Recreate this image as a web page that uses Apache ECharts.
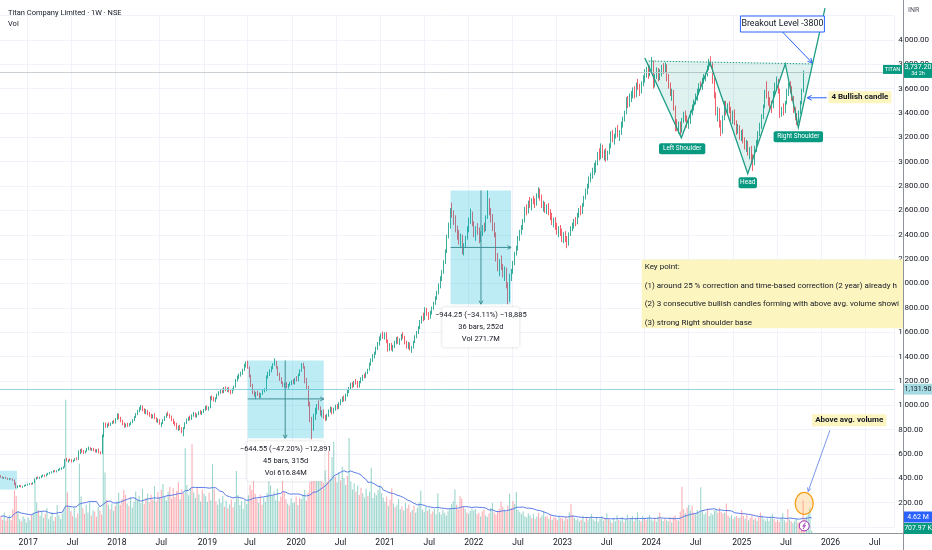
<!DOCTYPE html>
<html><head><meta charset="utf-8">
<script src="https://cdn.jsdelivr.net/npm/echarts@6/dist/echarts.min.js"></script>
<style>html,body{margin:0;padding:0;background:#fff}#c{width:932px;height:550px}</style>
</head><body><div id="c"></div>
<script>
// ---------- DATA ----------
const startMonday = '2016-09-12';
const futureWeeks = 53;
const xTickLabels = ['2017','Jul','2018','Jul','2019','Jul','2020','Jul','2021','Jul','2022','Jul','2023','Jul','2024','Jul','2025','Jul','2026','Jul'];
// weekly candles [open, high, low, close]
const ohlc2016 = [[418,425,405,410],[410,415,398,402],[402,410,395,406],[406,412,396,399],[399,404,388,392],[392,400,385,396],[396,402,390,394],[394,398,380,385],[385,390,345,360],[360,365,318,330],[330,342,318,335],[335,345,328,340],[340,344,326,330],[330,338,322,334],[334,346,330,342],[342,350,336,346]];
const ohlc2017 = [[346,356,340,352],[352,360,346,355],[355,362,348,350],[350,368,348,365],[365,400,360,395],[395,412,388,405],[405,415,396,400],[400,412,395,408],[408,425,402,420],[420,432,412,425],[425,430,412,418],[418,438,415,432],[432,445,426,440],[440,452,432,446],[446,458,440,452],[452,466,446,460],[460,468,450,455],[455,466,448,462],[462,478,458,472],[472,484,465,478],[478,490,470,485],[485,498,478,492],[492,560,488,548],[548,568,538,545],[545,555,528,550],[550,562,540,546],[546,556,530,538],[538,552,532,548],[548,565,542,560],[560,572,548,555],[555,630,552,612],[612,640,598,628],[628,645,610,618],[618,632,600,610],[610,628,604,624],[624,650,618,642],[642,660,630,648],[648,655,628,634],[634,648,625,642],[642,650,622,628],[628,640,612,618],[618,640,610,632],[632,645,605,612],[612,622,596,604],[604,760,600,745],[745,860,738,842],[842,858,815,828],[828,850,815,845],[845,860,826,838],[838,858,830,852],[852,872,845,866],[866,880,850,858]];
const ohlc2018 = [[858,895,850,888],[888,935,880,920],[920,930,885,895],[895,905,860,870],[870,880,835,845],[845,858,815,830],[830,850,818,842],[842,856,822,835],[835,852,826,848],[848,866,838,860],[860,885,852,878],[878,910,870,905],[905,935,895,928],[928,962,918,955],[955,985,942,975],[975,1003,960,990],[990,998,950,962],[962,975,930,945],[945,968,925,955],[955,962,918,928],[928,945,905,915],[915,930,890,900],[900,925,892,918],[918,935,885,892],[892,900,860,872],[872,890,855,880],[880,885,840,848],[848,860,820,852],[852,885,845,878],[878,910,870,902],[902,935,895,925],[925,948,910,918],[918,930,892,900],[900,915,870,878],[878,890,845,852],[852,868,830,840],[840,855,800,812],[812,832,790,825],[825,840,795,805],[805,820,770,785],[785,820,745,812],[812,860,805,852],[852,890,845,880],[880,905,870,898],[898,915,875,885],[885,925,880,918],[918,945,905,930],[930,940,900,910],[910,932,898,925],[925,950,918,942],[942,960,925,935],[935,955,920,948]];
const ohlc2019 = [[948,970,935,962],[962,995,955,985],[985,1000,960,975],[975,990,955,982],[982,1075,975,1062],[1062,1080,1040,1050],[1050,1070,1030,1045],[1045,1065,1025,1058],[1058,1095,1050,1088],[1088,1115,1078,1105],[1105,1130,1095,1120],[1120,1138,1098,1108],[1108,1150,1100,1140],[1140,1155,1115,1128],[1128,1145,1110,1135],[1135,1150,1105,1115],[1115,1125,1090,1100],[1100,1140,1095,1132],[1132,1160,1120,1150],[1150,1215,1145,1205],[1205,1245,1195,1232],[1232,1260,1215,1250],[1250,1275,1235,1262],[1262,1300,1250,1290],[1290,1340,1280,1325],[1325,1360,1310,1330],[1330,1366,1300,1310],[1310,1318,1230,1242],[1242,1250,1150,1165],[1165,1175,1090,1105],[1105,1120,1070,1085],[1085,1110,1050,1098],[1098,1120,1075,1090],[1090,1105,1055,1068],[1068,1100,1060,1092],[1092,1130,1085,1120],[1120,1140,1105,1125],[1125,1245,1115,1232],[1232,1275,1220,1262],[1262,1295,1240,1285],[1285,1320,1270,1305],[1305,1345,1295,1338],[1338,1385,1325,1352],[1352,1365,1300,1312],[1312,1320,1240,1255],[1255,1268,1200,1215],[1215,1230,1175,1182],[1182,1195,1150,1165],[1165,1185,1145,1172],[1172,1190,1140,1150],[1150,1175,1135,1168],[1168,1192,1155,1180]];
const ohlc2020 = [[1180,1205,1165,1190],[1190,1215,1172,1178],[1178,1225,1170,1218],[1218,1240,1195,1205],[1205,1260,1198,1252],[1252,1295,1240,1285],[1285,1345,1275,1335],[1335,1350,1300,1312],[1312,1320,1180,1195],[1195,1225,1130,1150],[1150,1160,990,1010],[1010,1030,860,880],[880,905,721,800],[800,930,790,915],[915,980,880,945],[945,1010,925,995],[995,1040,960,975],[975,990,915,930],[930,960,900,945],[945,965,890,905],[905,920,870,885],[885,930,875,920],[920,965,905,955],[955,990,940,972],[972,985,925,940],[940,980,930,968],[968,1005,955,992],[992,1010,965,978],[978,1025,970,1015],[1015,1050,1000,1040],[1040,1070,1025,1055],[1055,1080,1030,1042],[1042,1095,1035,1085],[1085,1125,1070,1110],[1110,1150,1100,1140],[1140,1185,1130,1172],[1172,1190,1140,1155],[1155,1200,1150,1192],[1192,1215,1170,1180],[1180,1200,1140,1150],[1150,1200,1145,1195],[1195,1230,1180,1220],[1220,1250,1200,1238],[1238,1260,1220,1232],[1232,1275,1225,1268],[1268,1300,1255,1292],[1292,1350,1285,1340],[1340,1385,1325,1372],[1372,1420,1355,1410],[1410,1440,1385,1428],[1428,1480,1415,1470],[1470,1520,1455,1508],[1508,1565,1490,1552]];
const ohlc2021 = [[1552,1590,1530,1575],[1575,1605,1545,1560],[1560,1598,1540,1585],[1585,1600,1510,1522],[1522,1540,1440,1460],[1460,1510,1445,1495],[1495,1512,1450,1465],[1465,1495,1440,1482],[1482,1530,1470,1520],[1520,1560,1500,1545],[1545,1565,1505,1515],[1515,1550,1495,1540],[1540,1585,1530,1575],[1575,1600,1545,1555],[1555,1570,1500,1510],[1510,1530,1465,1478],[1478,1520,1460,1505],[1505,1515,1450,1462],[1462,1485,1430,1475],[1475,1530,1465,1522],[1522,1575,1510,1565],[1565,1610,1550,1598],[1598,1650,1585,1640],[1640,1700,1625,1688],[1688,1735,1670,1720],[1720,1760,1690,1705],[1705,1805,1700,1790],[1790,1800,1735,1748],[1748,1765,1700,1718],[1718,1775,1710,1762],[1762,1810,1745,1800],[1800,1850,1785,1838],[1838,1895,1825,1880],[1880,1940,1865,1925],[1925,2000,1910,1985],[1985,2060,1960,2040],[2040,2110,2020,2095],[2095,2190,2080,2175],[2175,2280,2160,2262],[2262,2400,2250,2385],[2385,2500,2370,2480],[2480,2620,2450,2595],[2595,2665,2540,2555],[2555,2600,2480,2510],[2510,2560,2420,2440],[2440,2475,2360,2395],[2395,2440,2320,2345],[2345,2410,2300,2385],[2385,2400,2240,2270],[2270,2330,2230,2310],[2310,2390,2290,2375],[2375,2470,2360,2455]];
const ohlc2022 = [[2455,2540,2420,2525],[2525,2615,2490,2560],[2560,2590,2470,2490],[2490,2510,2380,2410],[2410,2470,2350,2450],[2450,2495,2400,2420],[2420,2460,2330,2365],[2365,2430,2340,2415],[2415,2480,2390,2465],[2465,2500,2420,2440],[2440,2560,2430,2545],[2545,2764,2530,2680],[2680,2700,2560,2585],[2585,2620,2500,2530],[2530,2570,2430,2470],[2470,2500,2380,2405],[2405,2420,2180,2210],[2210,2250,2100,2145],[2145,2200,2060,2180],[2180,2230,2110,2135],[2135,2160,2050,2090],[2090,2140,2020,2115],[2115,2130,1960,1990],[1990,2010,1830,1880],[1880,2080,1850,2060],[2060,2120,2020,2095],[2095,2185,2080,2170],[2170,2260,2150,2245],[2245,2310,2230,2290],[2290,2390,2270,2375],[2375,2440,2350,2420],[2420,2480,2400,2460],[2460,2530,2440,2515],[2515,2630,2500,2610],[2610,2650,2560,2590],[2590,2680,2575,2665],[2665,2710,2620,2640],[2640,2700,2600,2685],[2685,2720,2650,2670],[2670,2700,2620,2650],[2650,2740,2640,2720],[2720,2790,2700,2765],[2765,2780,2680,2700],[2700,2730,2620,2640],[2640,2680,2590,2655],[2655,2670,2580,2600],[2600,2650,2570,2630],[2630,2660,2560,2575],[2575,2610,2520,2545],[2545,2580,2480,2500],[2500,2540,2460,2520],[2520,2545,2440,2465]];
const ohlc2023 = [[2465,2500,2400,2430],[2430,2470,2380,2455],[2455,2480,2390,2410],[2410,2450,2340,2375],[2375,2420,2330,2400],[2400,2430,2340,2360],[2360,2390,2290,2330],[2330,2420,2310,2405],[2405,2470,2390,2455],[2455,2500,2430,2480],[2480,2530,2450,2515],[2515,2545,2470,2495],[2495,2580,2485,2565],[2565,2620,2540,2600],[2600,2640,2560,2585],[2585,2660,2570,2645],[2645,2720,2630,2700],[2700,2780,2690,2765],[2765,2820,2730,2800],[2800,2880,2780,2860],[2860,2910,2830,2880],[2880,2950,2860,2935],[2935,2990,2890,2960],[2960,3010,2910,2990],[2990,3080,2970,3060],[3060,3110,3010,3040],[3040,3150,3020,3120],[3120,3140,3030,3060],[3060,3100,3010,3080],[3080,3110,3000,3035],[3035,3090,3010,3075],[3075,3150,3060,3130],[3130,3250,3110,3220],[3220,3260,3160,3180],[3180,3230,3140,3210],[3210,3280,3190,3260],[3260,3300,3200,3225],[3225,3260,3170,3240],[3240,3330,3220,3310],[3310,3370,3280,3350],[3350,3420,3330,3400],[3400,3530,3390,3500],[3500,3540,3440,3470],[3470,3560,3450,3530],[3530,3580,3490,3555],[3555,3610,3520,3590],[3590,3620,3520,3545],[3545,3650,3530,3630],[3630,3680,3590,3610],[3610,3640,3540,3570],[3570,3660,3560,3645],[3645,3710,3620,3690]];
const ohlc2024 = [[3690,3760,3650,3720],[3720,3780,3690,3750],[3750,3800,3680,3710],[3710,3790,3700,3770],[3770,3860,3740,3810],[3810,3830,3600,3640],[3640,3720,3610,3700],[3700,3775,3680,3740],[3740,3770,3660,3685],[3685,3760,3670,3745],[3745,3795,3700,3780],[3780,3810,3720,3750],[3750,3815,3730,3795],[3795,3800,3660,3690],[3690,3720,3600,3620],[3620,3650,3540,3560],[3560,3600,3500,3580],[3580,3590,3420,3440],[3440,3460,3250,3300],[3300,3350,3250,3280],[3280,3330,3230,3310],[3310,3330,3210,3245],[3245,3360,3240,3345],[3345,3410,3320,3395],[3395,3420,3330,3350],[3350,3380,3280,3300],[3300,3340,3270,3325],[3325,3420,3310,3405],[3405,3470,3380,3450],[3450,3510,3420,3490],[3490,3560,3470,3540],[3540,3600,3500,3580],[3580,3645,3550,3625],[3625,3660,3590,3605],[3605,3690,3590,3670],[3670,3720,3640,3700],[3700,3730,3660,3715],[3715,3790,3700,3770],[3770,3845,3750,3825],[3825,3866,3780,3800],[3800,3810,3640,3665],[3665,3690,3520,3545],[3545,3570,3380,3410],[3410,3450,3330,3430],[3430,3440,3280,3300],[3300,3340,3210,3250],[3250,3380,3230,3360],[3360,3500,3340,3470],[3470,3500,3380,3400],[3400,3480,3390,3460],[3460,3495,3400,3420],[3420,3450,3330,3360]];
const ohlc2025 = [[3360,3420,3310,3390],[3390,3430,3300,3320],[3320,3340,3220,3250],[3250,3310,3230,3290],[3290,3300,3180,3210],[3210,3260,3170,3240],[3240,3270,3150,3170],[3170,3200,3100,3130],[3130,3180,3080,3160],[3160,3170,3050,3080],[3080,3120,3020,3100],[3100,3130,2990,3030],[3030,3060,2925,2980],[2980,3130,2970,3110],[3110,3180,3080,3160],[3160,3250,3140,3230],[3230,3320,3210,3300],[3300,3390,3270,3370],[3370,3470,3350,3450],[3450,3590,3440,3570],[3570,3660,3520,3540],[3540,3580,3460,3490],[3490,3530,3420,3470],[3470,3500,3400,3450],[3450,3580,3440,3560],[3560,3650,3540,3630],[3630,3700,3600,3660],[3660,3680,3560,3580],[3580,3600,3360,3400],[3400,3450,3370,3430],[3430,3480,3380,3420],[3420,3500,3400,3480],[3480,3600,3470,3580],[3580,3650,3540,3620],[3620,3660,3560,3590],[3590,3620,3500,3520],[3520,3540,3400,3430],[3430,3450,3340,3380],[3380,3400,3300,3350],[3350,3420,3320,3400],[3400,3500,3390,3480],[3480,3600,3470,3580],[3580,3750,3570,3737.2]];
// weekly volume, millions of shares
const vol2016 = [5.2,4.1,6.3,3.8,4.6,5.5,3.9,7.2,13.1,11.4,6.8,4.2,3.6,5.1,4.4,3.2];
const vol2017 = [4.8,3.9,5.6,6.2,16.2,9.4,7.1,5.3,6.8,4.6,5.9,7.7,4.2,5.1,6.4,3.8,4.9,8.6,5.5,4.3,6.1,7.2,41.0,12.5,8.3,6.7,5.2,7.9,4.8,6.0,21.3,11.2,7.6,5.9,8.8,6.3,9.5,5.4,7.1,6.6,5.0,8.1,6.9,5.7,30.4,18.6,10.2,8.7,7.4,9.1,6.8,8.3];
const vol2018 = [9.8,12.4,8.6,10.5,13.2,11.7,9.1,8.4,10.9,7.8,9.6,12.8,10.3,11.5,9.2,13.6,8.9,10.7,12.1,9.4,11.8,10.2,14.5,9.7,12.6,10.8,13.3,15.1,11.4,9.9,12.7,14.2,10.6,13.8,11.1,12.9,15.6,10.4,13.5,12.2,26.1,14.8,11.6,13.9,27.3,12.5,10.8,14.1,11.9,9.7,13.4,12.1];
const vol2019 = [11.3,9.6,12.4,10.1,21.2,13.5,9.8,8.7,10.6,9.2,11.4,8.1,9.9,7.6,8.8,10.3,7.9,9.4,19.1,11.7,8.6,9.8,7.4,10.2,8.9,11.6,14.8,13.2,16.4,12.1,10.5,9.3,11.8,8.7,10.9,9.6,12.3,18.2,14.6,11.4,12.8,10.1,13.7,9.8,11.2,24.3,12.6,10.4,9.1,8.5,10.7,9.3];
const vol2020 = [9.4,11.2,8.6,10.8,10.5,11.8,13.2,9.9,12.4,15.6,19.3,21.7,18.4,19.6,20.8,16.2,17.9,15.4,19.3,15.8,25.2,16.6,23.4,28.1,17.3,15.7,18.8,16.2,20.4,16.9,14.8,17.6,29.2,15.9,13.4,15.2,12.8,14.6,11.7,13.9,12.2,10.9,13.6,11.4,12.7,20.1,10.8,12.4,11.6,13.2,14.7,12.3,10.9];
const vol2021 = [9.6,11.3,8.4,10.2,13.8,9.1,7.9,8.7,10.5,7.4,8.2,6.9,9.3,7.6,8.8,6.4,7.1,8.5,6.2,7.8,9.4,13.1,7.2,6.5,8.1,6.8,7.5,5.9,6.6,7.3,5.8,12.2,6.4,5.7,7.1,6.2,5.4,6.8,7.6,8.9,9.8,13.4,8.7,7.2,11.3,10.6,8.1,7.4,6.3,5.9,6.8,7.5];
const vol2022 = [6.9,7.4,5.8,6.2,5.1,6.6,7.2,5.5,4.9,6.1,7.8,9.2,6.3,5.7,6.8,7.4,9.6,8.1,7.2,6.5,8.4,12.1,7.6,9.8,8.9,12.6,7.1,6.4,5.8,6.7,5.2,4.8,6.1,5.5,4.6,5.9,4.3,5.1,6.2,4.7,5.4,6.8,4.9,5.3,4.4,5.7,4.1,5.0,4.6,3.9,5.2,4.8];
const vol2023 = [4.5,3.8,5.1,4.2,6.3,8.9,5.6,4.7,3.9,4.4,3.6,4.1,5.3,3.4,4.8,3.9,4.6,5.8,4.2,3.7,4.9,3.5,4.3,5.2,3.8,4.6,6.1,4.4,3.9,3.2,4.7,3.6,5.5,4.1,3.8,4.9,3.4,4.2,5.7,3.9,4.5,5.2,3.7,4.8,6.4,4.1,3.6,5.3,4.4,3.9,4.8,5.6];
const vol2024 = [4.2,3.8,4.6,3.5,5.1,6.2,4.3,3.7,4.4,3.9,3.6,4.8,3.3,4.9,5.4,4.1,3.8,6.6,14.2,7.3,6.1,7.8,8.6,6.9,8.4,6.2,5.8,7.1,6.4,14.1,6.8,5.7,6.3,7.5,5.2,6.1,5.6,6.9,7.4,6.2,7.8,6.5,5.9,6.3,9.1,5.4,4.8,5.6,4.3,4.9,5.2,4.6];
const vol2025 = [4.8,7.1,5.2,4.4,5.6,3.9,4.7,5.3,4.1,4.6,3.8,5.1,6.3,5.4,4.2,3.7,4.5,3.6,4.9,5.8,4.3,3.5,4.1,3.4,4.6,6.1,3.9,3.3,7.4,4.2,3.6,3.1,3.8,4.5,3.2,3.5,2.9,10.1,4.6,5.2,6.4,7.8,0.708];
// annotation anchors in data space: [week index, price] / [week index, volume]
const hsZigzag = [[380.9,3852],[402.5,3197],[419.5,3811],[441.8,2902],[464,3803],[471.7,3279],[487.5,4262]];
const hsNeckline = [[383.2,3827],[479.9,3803]];
const hsLabels = [{t:'Left Shoulder',at:[403,3107]},{t:'Head',at:[441.8,2828]},{t:'Right Shoulder',at:[471.7,3205]}];
const measureBoxes = [
  {from:266,to:301.8,top:2764,bottom:1830,mid:2296,vx:284,lines:['−944.25 (−34.11%) −18,885','36 bars, 252d','Vol 271.7M']},
  {from:146,to:191,top:1368,bottom:729,mid:1052,vx:168.2,lines:['−644.55 (−47.20%) −12,891','45 bars, 315d','Vol 616.84M']},
  {from:-6,to:9.5,top:462,bottom:307,lines:[]}
];
const keyPointLines = ['Key point:','(1) around 25 % correction and time-based correction (2 year) already happened','(2) 3 consecutive bullish candles forming with above avg. volume showing momentum','(3) strong Right shoulder base'];
const lastPrice = 3737.2, refLevel = 1131.9, volMaLast = '4.62 M', volLast = '707.97 K';

// ---------- BUILD ----------
const ohlc = [].concat(ohlc2016,ohlc2017,ohlc2018,ohlc2019,ohlc2020,ohlc2021,ohlc2022,ohlc2023,ohlc2024,ohlc2025);
const vol = [].concat(vol2016,vol2017,vol2018,vol2019,vol2020,vol2021,vol2022,vol2023,vol2024,vol2025);
const nTotal = ohlc.length + futureWeeks;
const weeks = [];
const t0 = Date.parse(startMonday + 'T00:00:00Z');
for (let k = 0; k < nTotal; k++) weeks.push(new Date(t0 + k * 7 * 864e5).toISOString().slice(0, 10));
const labelAt = {};
xTickLabels.forEach((lab, k) => {
  const y = 2017 + Math.floor(k / 2), m = k % 2 ? 6 : 0;
  const target = Date.UTC(y, m, 1);
  const idx = weeks.findIndex(w => Date.parse(w + 'T00:00:00Z') >= target);
  if (idx >= 0) labelAt[idx] = lab;
});
const isTick = (i) => labelAt[i] !== undefined;
const candleData = ohlc.map(r => [r[0], r[3], Math.min(r[2], r[0], r[3]), Math.max(r[1], r[0], r[3])]);
const up = ohlc.map(r => r[3] >= r[0]);
const volData = vol.map((v, i) => ({value: v, itemStyle: {color: up[i] ? 'rgba(8,153,129,0.4)' : 'rgba(242,54,69,0.4)'}}));
const volMA = vol.map((v, i) => { const s = Math.max(0, i - 19); let sum = 0; for (let k = s; k <= i; k++) sum += vol[k]; return +(sum / (i - s + 1)).toFixed(3); });

const FONT = 'Roboto';
const chart = echarts.init(document.getElementById('c'));
chart.setOption({
  animation: false,
  backgroundColor: '#ffffff',
  textStyle: {fontFamily: FONT},
  title: {text: 'Titan Company Limited · 1W · NSE', subtext: 'Vol', left: 3, top: 4, itemGap: 3,
    textStyle: {fontSize: 7.5, fontWeight: 'normal', color: '#131722', fontFamily: FONT},
    subtextStyle: {fontSize: 7.5, color: '#131722', fontFamily: FONT}},
  grid: [{left: 0, right: 29, top: 15.6, bottom: 23}, {left: 0, right: 29, bottom: 17, height: 162.5}],
  xAxis: [
    {type: 'category', gridIndex: 0, data: weeks, boundaryGap: true, axisLine: {show: false}, axisTick: {show: false}, axisLabel: {show: false},
      splitLine: {show: true, interval: isTick, lineStyle: {color: '#f0f3fa'}}},
    {type: 'category', gridIndex: 1, data: weeks, boundaryGap: true, axisLine: {show: true, lineStyle: {color: '#8f939c'}}, axisTick: {show: false},
      axisLabel: {interval: isTick, formatter: (v, i) => labelAt[i] || '', fontSize: 8.5, color: '#131722', margin: 5, fontFamily: FONT}, splitLine: {show: false}}
  ],
  yAxis: [
    {type: 'value', gridIndex: 0, position: 'right', min: 0, max: 4200, interval: 200, axisLine: {show: false}, axisTick: {show: false},
      axisLabel: {formatter: v => (v <= 0 || v >= 4200) ? '' : v.toLocaleString('en-US', {minimumFractionDigits: 2, maximumFractionDigits: 2}), fontSize: 8, color: '#131722', margin: 4, fontFamily: FONT},
      splitLine: {lineStyle: {color: '#f0f3fa'}}},
    {type: 'value', gridIndex: 1, min: 0, max: 50, show: false, splitLine: {show: false}}
  ],
  series: [
    {type: 'bar', name: 'Vol', xAxisIndex: 1, yAxisIndex: 1, data: volData, barWidth: 1.1, z: 1, silent: true},
    {type: 'line', name: 'Vol MA', xAxisIndex: 1, yAxisIndex: 1, data: volMA, showSymbol: false, lineStyle: {color: '#5b7ce6', width: 1}, z: 2, silent: true},
    {type: 'candlestick', name: 'TITAN', xAxisIndex: 0, yAxisIndex: 0, data: candleData, barWidth: 1.2, z: 3,
      itemStyle: {color: '#089981', color0: '#f23645', borderColor: '#089981', borderColor0: '#f23645', borderWidth: 0.8},
      markLine: {silent: true, symbol: ['none', 'none'], label: {show: false}, animation: false,
        data: [{yAxis: lastPrice, lineStyle: {color: '#c9cfd2', width: 1, type: 'solid'}}, {yAxis: refLevel, lineStyle: {color: '#97d3de', width: 1, type: 'solid'}}]}}
  ]
});

// ---------- ANNOTATIONS (positioned through the chart's scales) ----------
const xa = chart.convertToPixel({xAxisIndex: 0}, 0), xb = chart.convertToPixel({xAxisIndex: 0}, 100);
const X = i => xa + (xb - xa) * i / 100;
const Y = v => chart.convertToPixel({yAxisIndex: 0}, v);
const YV = v => chart.convertToPixel({yAxisIndex: 1}, v);
const W = chart.getWidth(), H = chart.getHeight();
const plotRight = W - 29;
const P = a => [X(a[0]), Y(a[1])];
const g = [];
function arrow(x1, y1, x2, y2, color, lw, head) {
  const a = Math.atan2(y2 - y1, x2 - x1); head = head || 5;
  g.push({type: 'line', z: 20, shape: {x1, y1, x2, y2}, style: {stroke: color, lineWidth: lw}});
  g.push({type: 'polyline', z: 20, shape: {points: [[x2 - head * Math.cos(a - 0.5), y2 - head * Math.sin(a - 0.5)], [x2, y2], [x2 - head * Math.cos(a + 0.5), y2 - head * Math.sin(a + 0.5)]]}, style: {stroke: color, lineWidth: lw, fill: null}});
}
function txt(x, y, text, o) {
  o = o || {};
  g.push({type: 'text', z: o.z || 22, x, y, style: Object.assign({text, fill: '#131722', fontSize: 8, fontFamily: FONT, align: 'left', verticalAlign: 'middle'}, o.style || {})});
}
// measurement boxes
measureBoxes.forEach(b => {
  const x1 = X(b.from), x2 = X(b.to), y1 = Y(b.top), y2 = Y(b.bottom);
  g.push({type: 'rect', z: 5, shape: {x: x1, y: y1, width: x2 - x1, height: y2 - y1}, style: {fill: 'rgba(0,182,212,0.26)'}});
  if (b.mid !== undefined) {
    arrow(x1, Y(b.mid), x2, Y(b.mid), '#3f8f96', 1, 4);
    arrow(X(b.vx), y1, X(b.vx), y2, '#3f8f96', 1, 4);
  }
  if (b.lines.length) {
    const cx = (x1 + x2) / 2, w = 77, h = 12 * b.lines.length + 4, top = y2 + 3;
    g.push({type: 'rect', z: 21, shape: {x: cx - w / 2, y: top, width: w, height: h, r: 2}, style: {fill: '#ffffff', shadowBlur: 3, shadowColor: 'rgba(0,0,0,0.18)'}});
    b.lines.forEach((l, k) => txt(cx, top + 8 + k * 12, l, {style: {align: 'center', fontSize: 7.5}}));
  }
});
// inverse head & shoulders
const zz = hsZigzag.map(P), neck = hsNeckline.map(P);
g.push({type: 'polygon', z: 6, shape: {points: zz.slice(0, 6).concat([neck[1], neck[0]])}, style: {fill: 'rgba(8,153,129,0.13)'}});
g.push({type: 'polyline', z: 8, shape: {points: zz}, style: {stroke: '#1e9e86', lineWidth: 1.3, fill: null}});
g.push({type: 'polyline', z: 8, shape: {points: neck}, style: {stroke: '#1e9e86', lineWidth: 1, lineDash: [1.5, 1.5], fill: null}});
hsLabels.forEach(l => {
  const [cx, cy] = P(l.at);
  const w = l.t.length * 3.1 + 6;
  g.push({type: 'rect', z: 21, shape: {x: cx - w / 2, y: cy - 5.5, width: w, height: 11, r: 2}, style: {fill: '#089981'}});
  txt(cx, cy, l.t, {style: {align: 'center', fill: '#ffffff', fontSize: 6.5}});
});
// breakout callout
{
  const cx = X(462.3), cy = Y(4131);
  g.push({type: 'rect', z: 21, shape: {x: cx - 42, y: cy - 8, width: 84, height: 16}, style: {fill: '#ffffff', stroke: '#2962ff', lineWidth: 1}});
  txt(cx, cy, 'Breakout Level -3800', {style: {align: 'center', fontSize: 8.8}});
  arrow(X(462.3), Y(4066), X(479.9), Y(3812), '#2962ff', 1, 5);
}
// 4 bullish candle
txt(X(489.5), Y(3529), '4 Bullish candle', {style: {fontSize: 8, fontWeight: 'bold', backgroundColor: '#fdf5c0', padding: [2, 3]}});
arrow(X(488.5), Y(3525), X(477), Y(3525), '#2962ff', 1, 5);
// above avg. volume
txt(X(479.9), YV(34.7), 'Above avg. volume', {style: {fontSize: 8, fontWeight: 'bold', backgroundColor: '#fdf5c0', padding: [2, 3]}});
arrow(X(490.4), YV(31.6), X(477.5), YV(12.8), '#5b7ce6', 0.8, 4);
g.push({type: 'ellipse', z: 20, shape: {cx: X(475.2), cy: YV(9.1), rx: 9, ry: 11}, style: {fill: 'rgba(255,167,38,0.25)', stroke: '#f5a01a', lineWidth: 1.3}});
{
  const cx = X(475.2), cy = YV(2.2);
  g.push({type: 'circle', z: 20, shape: {cx, cy, r: 5}, style: {fill: '#ffffff', stroke: '#9c27b0', lineWidth: 1}});
  g.push({type: 'polyline', z: 21, shape: {points: [[cx + 1.2, cy - 3.2], [cx - 1.4, cy + 0.4], [cx + 1.2, cy - 0.4], [cx - 1.2, cy + 3.2]]}, style: {stroke: '#9c27b0', lineWidth: 0.9, fill: null}});
}
// key point note
{
  const x1 = X(379.1), y1 = Y(2197), y2 = Y(1632);
  g.push({type: 'rect', z: 15, shape: {x: x1, y: y1, width: plotRight - x1, height: y2 - y1}, style: {fill: '#fdf5c0'}});
  keyPointLines.forEach((l, k) => txt(x1 + 3, y1 + 8 + k * 18.5, l, {style: {fontSize: 8, width: plotRight - x1 - 4, overflow: 'truncate', ellipsis: ''}}));
}
// axis frame and price tags
g.push({type: 'line', z: 30, shape: {x1: plotRight + 0.5, y1: 0, x2: plotRight + 0.5, y2: H}, style: {stroke: '#8f939c', lineWidth: 1}});
txt(plotRight + 5, 10, 'INR', {z: 31, style: {fontSize: 7, fill: '#50535e'}});
{
  const yp = Y(lastPrice);
  g.push({type: 'rect', z: 31, shape: {x: plotRight - 20, y: yp - 7, width: 19, height: 9}, style: {fill: '#089981'}});
  txt(plotRight - 10.5, yp - 2.5, 'TITAN', {z: 32, style: {align: 'center', fontSize: 5.5, fill: '#ffffff'}});
  g.push({type: 'rect', z: 31, shape: {x: plotRight + 1, y: yp - 9, width: 28, height: 15}, style: {fill: '#089981'}});
  txt(plotRight + 15, yp - 4.8, '3,737.20', {z: 32, style: {align: 'center', fontSize: 7, fill: '#ffffff'}});
  txt(plotRight + 15, yp + 1.8, '3d 2h', {z: 32, style: {align: 'center', fontSize: 5.5, fill: '#ffffff'}});
  const yr = Y(refLevel);
  g.push({type: 'rect', z: 31, shape: {x: plotRight + 1, y: yr - 5.5, width: 28, height: 11}, style: {fill: '#a6dbe4'}});
  txt(plotRight + 15, yr, '1,131.90', {z: 32, style: {align: 'center', fontSize: 7, fill: '#131722'}});
  const ym = YV(4.62) - 1, yl = ym + 11.5;
  g.push({type: 'rect', z: 31, shape: {x: plotRight + 1, y: ym - 5.5, width: 28, height: 11}, style: {fill: '#2962ff'}});
  txt(plotRight + 15, ym, volMaLast, {z: 32, style: {align: 'center', fontSize: 7, fill: '#ffffff'}});
  g.push({type: 'rect', z: 31, shape: {x: plotRight + 1, y: yl - 5.5, width: 28, height: 11}, style: {fill: '#089981'}});
  txt(plotRight + 15, yl, volLast, {z: 32, style: {align: 'center', fontSize: 7, fill: '#ffffff'}});
}
chart.setOption({graphic: {elements: g}});
</script>
</body></html>
